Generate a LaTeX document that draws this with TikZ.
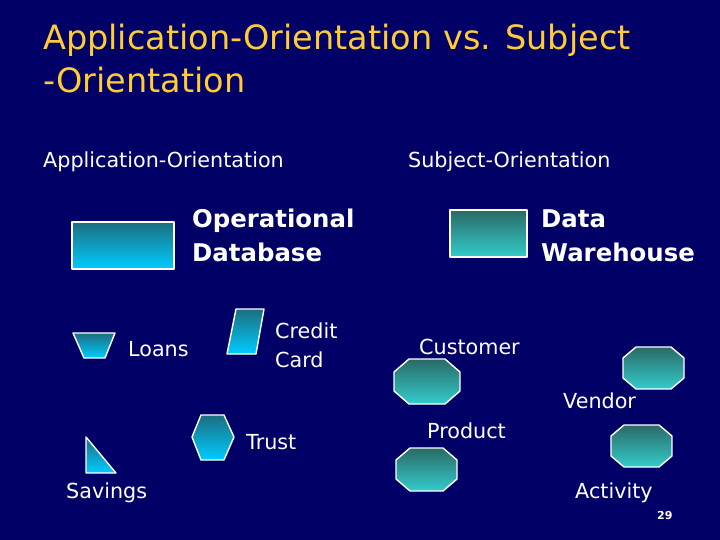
\documentclass[tikz,border=0pt]{standalone}
\usepackage{fontspec}
\setmainfont{DejaVu Sans}
\begin{document}
\begin{tikzpicture}[x=1pt,y=-1pt,
  lbl/.style={text=white,font=\fontsize{20.7}{29}\selectfont,inner sep=0pt,anchor=base west,align=left},
  blbl/.style={text=white,font=\fontsize{24.4}{34}\selectfont\bfseries,inner sep=0pt,anchor=base west,align=left},
  ttl/.style={text=titleyellow,font=\fontsize{33.5}{42}\selectfont,inner sep=0pt,anchor=base west},
  appshape/.style={draw=white,line width=1.4pt,top color=appTop,bottom color=appBot,line join=round},
  subjshape/.style={draw=white,line width=1.4pt,top color=subTop,bottom color=subBot,line join=round}]
\definecolor{bg}{HTML}{000066}
\definecolor{titleyellow}{HTML}{FFCC33}
\definecolor{appTop}{HTML}{1C6E80}
\definecolor{appBot}{HTML}{00CCFF}
\definecolor{subTop}{HTML}{2A6A66}
\definecolor{subBot}{HTML}{33CCCC}
\fill[bg] (0,0) rectangle (720,540);
\useasboundingbox (0,0) rectangle (720,540);
% title
\node[ttl] (t1) at (43,50) {Application-Orientation vs. Subject};
\node[ttl] (t2) at (43,93) {-Orientation};
% headings
\node[lbl] (h1) at (43,168) {Application-Orientation};
\node[lbl] (h2) at (408,168) {Subject-Orientation};
% application side shapes
\path[appshape] (72,222) rectangle (174,269);
\node[blbl] (opdb) at (192,261) {Operational\\Database};
\path[appshape] (73,333) -- (115,333) -- (105,358) -- (84,358) -- cycle;
\node[lbl] (loans) at (128,356) {Loans};
\path[appshape] (236,309) -- (264,309) -- (256,354) -- (227,354) -- cycle;
\node[lbl] (cc) at (275,367) {Credit\\Card};
\path[appshape] (86,437) -- (116,473) -- (86,473) -- cycle;
\node[lbl] (sav) at (66,498) {Savings};
\path[appshape] (192,437) -- (201,415) -- (224,415) -- (234,437) -- (224,460) -- (201,460) -- cycle;
\node[lbl] (trust) at (246,449) {Trust};
% subject side shapes
\path[subjshape] (450,210) rectangle (527,257);
\node[blbl] (dw) at (541,261) {Data\\Warehouse};
\newcommand{\myocta}[6]{%
  \path[subjshape] (#1+#5,#2) -- (#3-#5,#2) -- (#3,#2+#6) -- (#3,#4-#6) -- (#3-#5,#4) -- (#1+#5,#4) -- (#1,#4-#6) -- (#1,#2+#6) -- cycle;}
\myocta{394}{359}{460}{404}{15}{13}
\node[lbl] (cust) at (419,354) {Customer};
\myocta{623}{347}{684}{389}{13}{11}
\node[lbl] (vend) at (563,408) {Vendor};
\myocta{396}{448}{457}{491}{14}{12}
\node[lbl] (prod) at (427,438) {Product};
\myocta{611}{425}{672}{467}{13}{11}
\node[lbl] (act) at (575,498) {Activity};
\node[text=white,font=\fontsize{11}{13}\selectfont\bfseries,inner sep=0pt,anchor=base west] (pg) at (657,519) {29};
\end{tikzpicture}
\end{document}
